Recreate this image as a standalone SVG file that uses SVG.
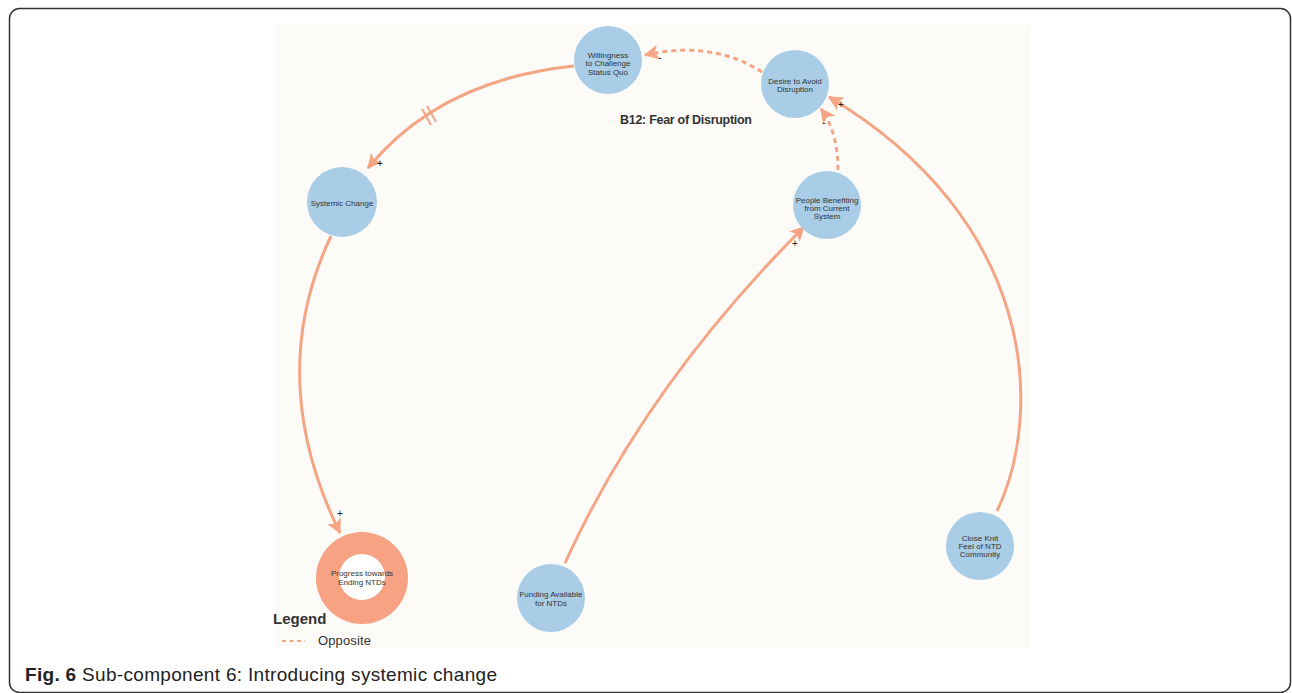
<svg xmlns="http://www.w3.org/2000/svg" width="1292" height="693" viewBox="0 0 1292 693">
<style>
.node{fill:#a9cde6}
.nt{font-family:"Liberation Sans",Arial,sans-serif;font-size:8px;fill:#333;text-anchor:middle}
.edge{fill:none;stroke:#f4a583;stroke-width:3}
.dash{stroke-dasharray:5 4}
.sign{font-family:"Liberation Sans",Arial,sans-serif;font-size:10px;fill:#222;text-anchor:middle}
</style>
<defs>
<marker id="ah" viewBox="0 0 12 12" refX="11" refY="6" markerWidth="15" markerHeight="15" markerUnits="userSpaceOnUse" orient="auto">
<path d="M0,0 L12,6 L0,12 L3,6 Z" fill="#f4a583"/>
</marker>
</defs>
<rect x="0" y="0" width="1292" height="693" fill="#fff"/>
<rect x="9.5" y="8.5" width="1281" height="684" rx="10" fill="none" stroke="#333" stroke-width="1.5"/>
<rect x="275" y="25" width="755" height="623" fill="#fcfbf8"/>

<g id="connectors">
<path class="edge" d="M574,66 Q440,80 368,168" marker-end="url(#ah)"/>
<line x1="422" y1="109" x2="431" y2="125" stroke="#f4a583" stroke-width="2"/>
<line x1="427" y1="106" x2="436" y2="122" stroke="#f4a583" stroke-width="2"/>
<path class="edge" d="M331,236 Q264,378 340,533" marker-end="url(#ah)"/>
<path class="edge dash" d="M762,72 Q712,40 645,55" marker-end="url(#ah)"/>
<path class="edge dash" d="M838,170 Q838,132 821,109" marker-end="url(#ah)"/>
<path class="edge" d="M997,511 C1045,410 1035,220 829,97" marker-end="url(#ah)"/>
<path class="edge" d="M565,563 Q646,385 804,227" marker-end="url(#ah)"/>
<text class="sign" x="660" y="61">-</text>
<text class="sign" x="824" y="126">-</text>
<text class="sign" x="841" y="108">+</text>
<text class="sign" x="380" y="167">+</text>
<text class="sign" x="340" y="517">+</text>
<text class="sign" x="795" y="247">+</text>
</g>

<g id="willingness">
<circle class="node" cx="608" cy="60" r="34"/>
<text class="nt" x="608" y="58">Willingness</text>
<text class="nt" x="608" y="66">to Challenge</text>
<text class="nt" x="608" y="75">Status Quo</text>
</g>
<g id="desire">
<circle class="node" cx="795" cy="84" r="34"/>
<text class="nt" x="795" y="84">Desire to Avoid</text>
<text class="nt" x="795" y="92">Disruption</text>
</g>
<g id="systemic">
<circle class="node" cx="342" cy="202" r="35"/>
<text class="nt" x="342" y="206">Systemic Change</text>
</g>
<g id="people">
<circle class="node" cx="827" cy="205" r="34"/>
<text class="nt" x="827" y="203">People Benefiting</text>
<text class="nt" x="827" y="211">from Current</text>
<text class="nt" x="827" y="219">System</text>
</g>
<g id="progress">
<circle cx="362" cy="578" r="46" fill="#f7a283"/>
<circle cx="362" cy="577" r="23" fill="#fff"/>
<text class="nt" x="362" y="576">Progress towards</text>
<text class="nt" x="362" y="585">Ending NTDs</text>
</g>
<g id="funding">
<circle class="node" cx="551" cy="598" r="34"/>
<text class="nt" x="551" y="597">Funding Available</text>
<text class="nt" x="551" y="606">for NTDs</text>
</g>
<g id="closeknit">
<circle class="node" cx="980" cy="546" r="34"/>
<text class="nt" x="980" y="541">Close Knit</text>
<text class="nt" x="980" y="549">Feel of NTD</text>
<text class="nt" x="980" y="557">Community</text>
</g>

<text x="620" y="124" font-family="'Liberation Sans',Arial,sans-serif" font-size="12.5" font-weight="bold" fill="#333" textLength="132">B12: Fear of Disruption</text>

<g id="legend">
<text x="273" y="624" font-family="'Liberation Sans',Arial,sans-serif" font-size="15" font-weight="bold" fill="#333">Legend</text>
<line x1="282" y1="641" x2="305" y2="641" stroke="#f4a583" stroke-width="2" stroke-dasharray="4 3.5"/>
<text x="318" y="645" font-family="'Liberation Sans',Arial,sans-serif" font-size="13" fill="#333" textLength="53">Opposite</text>
</g>

<text x="25" y="681" font-family="'Liberation Sans',Arial,sans-serif" font-size="19" fill="#222" textLength="472"><tspan font-weight="bold">Fig. 6</tspan> Sub-component 6: Introducing systemic change</text>
</svg>
